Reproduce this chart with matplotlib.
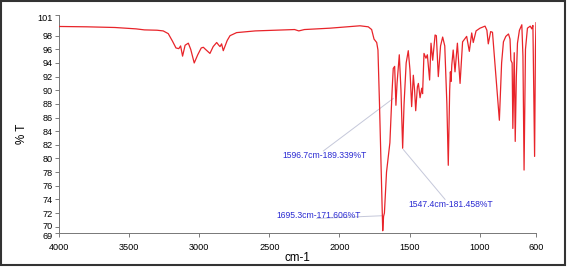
import numpy as np
import matplotlib.pyplot as plt
from matplotlib.patches import Rectangle
from matplotlib.transforms import ScaledTranslation

plt.rcParams['font.family'] = ['Liberation Sans', 'DejaVu Sans']

# IR spectrum (wavenumber cm-1, %T)
wavenumber = [4000, 3800, 3600, 3450, 3390, 3300, 3256, 3220, 3190, 3165,
              3145, 3132, 3118, 3100, 3077, 3060, 3035, 3010, 2985, 2970,
              2955, 2923, 2900, 2875, 2860, 2851, 2840, 2828, 2800, 2780,
              2733, 2600, 2450, 2320, 2290, 2250, 2068, 1950, 1854, 1795,
              1771, 1754, 1735, 1726, 1715, 1705, 1698, 1692, 1686, 1680,
              1665, 1641, 1625, 1617, 1607, 1598, 1590, 1574, 1562, 1550,
              1540, 1525, 1510, 1498, 1486, 1474, 1465, 1457, 1445, 1438,
              1426, 1414, 1408, 1398, 1384, 1374, 1358, 1348, 1336, 1319,
              1310, 1296, 1280, 1265, 1250, 1235, 1225, 1215, 1210, 1205,
              1200, 1190, 1177, 1160, 1141, 1123, 1094, 1075, 1058, 1047,
              1027, 999, 963, 950, 940, 923, 910, 892, 885, 861,
              845, 832, 815, 796, 785, 779, 770, 765, 755, 748,
              740, 732, 718, 701, 693, 685, 675, 661, 641, 630,
              622, 610, 604, 600]
transmittance = [99.35, 99.3, 99.2, 99.0, 98.85, 98.8, 98.7, 98.3, 97.2, 96.2,
                 96.1, 96.5, 95.0, 96.6, 96.9, 96.0, 94.0, 95.2, 96.2, 96.3,
                 96.0, 95.4, 96.4, 97.0, 96.6, 96.4, 96.8, 95.8, 97.3, 98.0,
                 98.45, 98.7, 98.8, 98.9, 98.7, 98.9, 99.1, 99.3, 99.45, 99.3,
                 98.9, 97.5, 97.0, 95.9, 88.0, 80.0, 74.0, 69.4, 71.5, 72.0,
                 78.0, 82.3, 90.0, 93.2, 93.5, 87.8, 91.0, 95.2, 90.0, 81.5,
                 88.0, 94.0, 95.8, 93.0, 87.6, 92.2, 90.0, 87.0, 90.5, 91.0,
                 88.9, 90.3, 89.5, 95.4, 94.7, 95.2, 91.5, 96.9, 94.4, 98.1,
                 98.0, 92.0, 96.5, 97.8, 96.5, 88.0, 79.0, 90.0, 92.7, 91.3,
                 93.7, 95.9, 92.7, 96.9, 91.0, 97.1, 97.9, 95.7, 98.4, 97.0,
                 98.7, 99.1, 99.4, 98.8, 96.8, 98.6, 98.5, 93.7, 92.0, 85.6,
                 94.0, 97.1, 97.9, 98.25, 97.5, 94.4, 94.0, 84.4, 95.5, 82.5,
                 92.0, 96.9, 98.8, 99.6, 95.0, 78.3, 96.0, 99.1, 99.4, 99.0,
                 99.5, 80.3, 96.0, 99.9]

# peak labels: text, text position, point the leader line goes to
peak_text = ["1596.7cm-189.339%T", "1547.4cm-181.458%T", "1695.3cm-171.606%T"]
text_xy = [(2106, 80.4), (1209, 73.2), (2148, 71.7)]
line_from = [(2115, 81.1), (1248, 74.0), (2162, 71.2)]
line_to = [(1617, 88.8), (1545, 81.3), (1699, 71.6)]

xticks = [4000, 3500, 3000, 2500, 2000, 1500, 1000, 600]
yticks = [69, 70, 72, 74, 76, 78, 80, 82, 84, 86, 88, 90, 92, 94, 96, 98, 101]

fig = plt.figure(figsize=(5.69, 2.67), dpi=100)
ax = fig.add_axes([0.1033, 0.1255, 0.8387, 0.8175])

ax.plot(wavenumber, transmittance, color='#e8242a', lw=0.9, zorder=3)

for (x0, y0), (x1, y1) in zip(line_from, line_to):
    ax.plot([x0, x1], [y0, y1], color='#c5c8da', lw=0.7, zorder=1)
for s, (tx, ty) in zip(peak_text, text_xy):
    ax.text(tx, ty, s, color='#2a2ad2', fontsize=6.2, ha='center', va='center', zorder=4)

ax.set_xlim(4000, 600)
ax.set_ylim(69, 101)
ax.set_xticks(xticks)
ax.set_yticks(yticks)
ax.tick_params(labelsize=6.6, length=3, width=0.6, color='#666666', pad=1.5)
ax.tick_params(axis='x', pad=4)
for side in ['top', 'right']:
    ax.spines[side].set_visible(False)
for side in ['left', 'bottom']:
    ax.spines[side].set_color('#777777')
    ax.spines[side].set_linewidth(0.7)

# the end labels sit a little off their ticks, as in the original
yt = ax.yaxis.get_major_ticks()
for i, dy in [(0, -0.022), (1, 0.012), (-1, -0.022)]:
    lab = yt[i].label1
    lab.set_transform(lab.get_transform() + ScaledTranslation(0, dy, fig.dpi_scale_trans))

fig.text(0.039, 0.5, '% T', rotation=90, fontsize=8.4, ha='center', va='center')
fig.text(0.522, 0.034, 'cm-1', fontsize=8.4, ha='center', va='center')

# outer frame
fig.patches.append(Rectangle((0.002, 0.008), 0.991, 0.988, transform=fig.transFigure,
                             fill=False, edgecolor='#333333', lw=1.5))

fig.savefig('out.png', dpi=100)
